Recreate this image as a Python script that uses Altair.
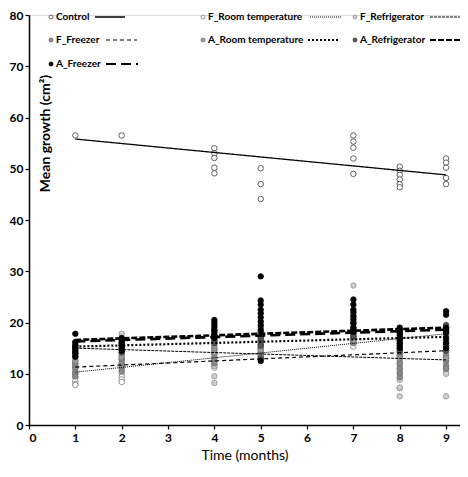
import altair as alt
import pandas as pd

SERIES = ["Control", "F_Room temperature", "F_Refrigerator", "F_Freezer",
          "A_Room temperature", "A_Refrigerator", "A_Freezer"]
MONTHS = [1, 2, 4, 5, 7, 8, 9]

CONTROL = [[56.5], [56.5], [54.0, 53.0, 52.1, 50.2, 49.1], [50.1, 47.0, 44.1],
           [56.5, 55.3, 54.1, 52.0, 49.0], [50.4, 49.6, 48.8, 47.9, 47.0, 46.4],
           [52.0, 51.2, 50.2, 48.2, 47.0]]
F_ROOM = [[10.0, 9.3, 8.6, 8.0, 7.8], [11.0, 10.0, 9.4, 8.9, 8.4], [14.0, 13.2, 12.5, 11.8, 11.2],
          [16.5, 15.5, 14.8, 14.0, 13.0], [17.5, 16.8, 16.0, 15.3],
          [14.5, 13.5, 12.5, 11.5, 10.5, 7.2], [19.0, 18.0, 17.5, 16.5, 15.0, 14.0]]
F_REFRIG = [[12.5, 12.0, 11.3, 10.5, 10.0], [17.8, 13.0, 12.5, 12.0, 11.5], [13.5, 12.5, 11.5, 9.5, 8.2],
            [16.0, 15.0, 14.0, 13.2], [27.2, 17.5, 16.5, 16.0],
            [12.0, 11.0, 10.0, 8.8, 7.3, 5.6], [13.0, 12.0, 11.0, 10.5, 10.0, 5.6]]
F_FREEZER = [[12.0, 11.5, 11.0, 10.2, 9.5], [13.5, 12.8, 12.0, 11.2, 10.5], [15.5, 14.8, 14.0, 13.0, 12.0],
             [17.5, 15.8, 15.0, 14.2, 13.5], [18.0, 17.3, 16.5, 16.0],
             [14.0, 13.0, 12.0, 11.0, 10.0, 9.3], [16.0, 14.5, 13.5, 12.5, 11.5, 11.0]]
A_ROOM = [[15.5, 14.8, 14.0, 13.2, 12.5], [16.0, 15.5, 14.8, 14.0, 13.2], [16.5, 16.0, 15.0, 14.5, 14.0],
          [18.0, 17.0, 16.0, 15.2, 14.5, 13.5], [18.5, 18.0, 17.5, 17.0, 16.5],
          [17.5, 16.5, 15.5, 14.5, 13.5, 13.0], [18.5, 17.5, 16.5, 15.5, 14.5, 13.0]]
A_REFRIG = [[16.0, 15.5, 15.0, 14.2, 13.5], [16.8, 16.2, 15.6, 15.0, 14.2], [18.5, 17.5, 17.0, 16.5, 16.0],
            [19.0, 18.0, 17.5, 17.0, 16.5, 15.5, 13.0], [21.0, 20.0, 19.0, 18.5, 17.8, 17.2],
            [18.8, 18.0, 17.0, 16.0, 15.0, 14.3], [19.5, 18.8, 18.0, 16.5, 15.5, 14.5]]
A_FREEZER = [[17.8, 16.2, 15.5, 15.0, 14.5, 14.0, 13.3], [17.0, 16.5, 16.0, 15.5, 15.0, 14.5],
             [20.5, 20.0, 19.5, 19.0, 18.5, 18.0, 17.5, 17.0],
             [29.0, 24.3, 23.5, 22.5, 21.8, 21.0, 20.2, 19.5, 18.5, 12.5],
             [24.5, 23.5, 22.5, 22.0, 21.3, 20.5, 19.8, 19.0, 18.2],
             [19.0, 18.5, 18.0, 17.5, 17.0, 16.5, 16.0, 15.5, 15.0],
             [22.2, 21.5, 19.0, 18.5, 18.0, 17.0, 16.0, 15.0]]
VALUES = [CONTROL, F_ROOM, F_REFRIG, F_FREEZER, A_ROOM, A_REFRIG, A_FREEZER]

# trend lines read at month 1 and month 9
TREND_MONTHS = [1, 9]
TREND_START = [55.8, 10.3, 15.0, 11.3, 15.3, 16.6, 16.3]
TREND_END = [48.8, 17.8, 12.7, 14.5, 17.2, 19.0, 18.6]

# styles
FILL = ["#ffffff", "#ffffff", "#cfcfcf", "#8a8a8a", "#9a9a9a", "#555555", "#000000"]
STROKE = ["#3c3c3c", "#7a7a7a", "#8f8f8f", "#6e6e6e", "#777777", "#404040", "#000000"]
DASH = [[1, 0], [1, 1], [3, 1], [4, 3], [2, 2], [6, 2], [10, 5]]
WIDTH = [1.3, 1.0, 1.0, 1.2, 2.2, 2.6, 2.6]
FONT = "Lato"

rows = []
for s, per_month in zip(SERIES, VALUES):
    for m, vals in zip(MONTHS, per_month):
        for v in vals:
            rows.append({"series": s, "month": m, "value": v})
df_pts = pd.DataFrame(rows)

xscale = alt.Scale(domain=[0, 9.3], nice=False, zero=False)
yscale = alt.Scale(domain=[0, 80], nice=False)

xaxis = alt.Axis(values=list(range(10)), format="d", title="Time (months)", grid=False,
                 domainColor="black", domainWidth=1.5, tickColor="black", tickSize=4, tickWidth=1.2,
                 labelFont=FONT, labelFontWeight="bold", labelFontSize=12, labelColor="black",
                 labelPadding=3, titleFont=FONT, titleFontSize=14, titleFontWeight="normal",
                 titleColor="black", titlePadding=5)
yaxis = alt.Axis(values=list(range(0, 81, 10)), format="d", title="Mean growth (cm²)", grid=False,
                 domainColor="black", domainWidth=1.5, tickColor="black", tickSize=4, tickWidth=1.2,
                 labelFont=FONT, labelFontWeight="bold", labelFontSize=12, labelColor="black",
                 labelPadding=2, titleFont=FONT, titleFontSize=14, titleFontWeight="bold",
                 titleColor="black", titleX=16, titleY=118, titleAngle=270,
                 titleAlign="center", titleBaseline="middle")

points = alt.Chart(df_pts).mark_point(shape="circle", filled=True, size=30, strokeWidth=0.8,
                                      opacity=1).encode(
    x=alt.X("month:Q", scale=xscale, axis=xaxis),
    y=alt.Y("value:Q", scale=yscale, axis=yaxis),
    fill=alt.Fill("series:N", scale=alt.Scale(domain=SERIES, range=FILL), legend=None),
    stroke=alt.Stroke("series:N", scale=alt.Scale(domain=SERIES, range=STROKE), legend=None),
)

layers = [points]
for i, s in enumerate(SERIES):
    dtr = pd.DataFrame({"month": TREND_MONTHS, "value": [TREND_START[i], TREND_END[i]]})
    layers.append(alt.Chart(dtr).mark_line(color="black", strokeDash=DASH[i],
                                           strokeWidth=WIDTH[i]).encode(
        x=alt.X("month:Q", scale=xscale), y=alt.Y("value:Q", scale=yscale)))

# custom legend (layout positions in pixels of the plot area)
COL_MARK_X = [22, 174, 326]
ROW_Y = [2, 25, 49]
LINE_X = [(66, 96), (281, 313), (401, 431), (77, 108), (279, 311), (401, 431), (77, 109)]
for i, s in enumerate(SERIES):
    r, c = divmod(i, 3)
    one = pd.DataFrame({"label": [s]})
    base = alt.Chart(one)
    layers.append(base.mark_point(shape="circle", filled=True, size=16, strokeWidth=0.8,
                                  opacity=1, fill=FILL[i], stroke=STROKE[i]).encode(
        x=alt.value(COL_MARK_X[c]), y=alt.value(ROW_Y[r])))
    layers.append(base.mark_text(align="left", baseline="middle", font=FONT, fontSize=10,
                                 fontWeight="bold", color="black").encode(
        x=alt.value(COL_MARK_X[c] + 5), y=alt.value(ROW_Y[r]), text="label:N"))
    layers.append(base.mark_rule(color="black", strokeDash=DASH[i],
                                 strokeWidth=min(WIDTH[i], 2.2)).encode(
        x=alt.value(LINE_X[i][0]), x2=alt.value(LINE_X[i][1]), y=alt.value(ROW_Y[r])))

chart = alt.layer(*layers).properties(
    width=431, height=410,
    autosize=alt.AutoSizeParams(type="none"),
    padding={"left": 21, "top": 7, "right": 0, "bottom": 44},
).configure_view(strokeWidth=0).configure(background="white")

chart.save("out.html", embed_options={"renderer": "svg", "actions": False})
